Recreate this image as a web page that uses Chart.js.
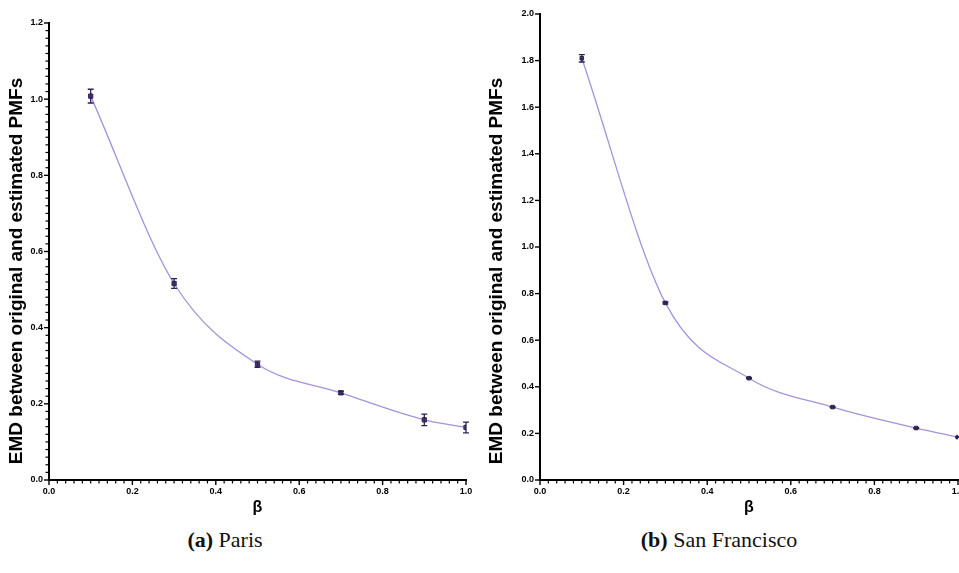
<!DOCTYPE html>
<html>
<head>
<meta charset="utf-8">
<script src="https://cdn.jsdelivr.net/npm/chart.js@4.4.0/dist/chart.umd.min.js"></script>
<style>
    html, body { margin: 0; padding: 0; background: #fff; overflow: hidden; width: 959px; height: 573px; }
    #ParisChart { position: absolute; left: 0; top: 0; }
    #SFChart { position: absolute; left: 480px; top: 0; }
    .caption { position: absolute; top: 527px; font-family: "Liberation Serif", serif; font-size: 22px; text-align: center; color: #111; }
</style>
</head>
<body>
<canvas id="ParisChart" width="480" height="520"></canvas>
<canvas id="SFChart" width="492" height="520"></canvas>
<div class="caption" style="left:0;width:450px"><b>(a)</b> Paris</div>
<div class="caption" style="left:480px;width:478px"><b>(b)</b> San Francisco</div>
<script>
// data
var betaValues = [0.1, 0.3, 0.5, 0.7, 0.9, 1.0];
var parisEmd = [1.008, 0.516, 0.304, 0.229, 0.158, 0.138];
var parisErr = [0.018, 0.013, 0.008, 0.004, 0.015, 0.014];
var sfEmd = [1.81, 0.76, 0.437, 0.313, 0.223, 0.184];
var sfErr = [0.016, 0.004, 0.002, 0.002, 0.002, 0.002];

var yTitle = 'EMD between original and estimated PMFs';
var curveColor = "#a493dc";
var markColor = "#2f2352";

// vertical error bars with caps, drawn on top of the points
var errorBars = {
    id: 'errorBars',
    afterDatasetsDraw: function (chart) {
        var ctx = chart.ctx;
        var xs = chart.scales.x, ys = chart.scales.y;
        chart.data.datasets.forEach(function (ds) {
            if (!ds.errors) return;
            ctx.save();
            ctx.strokeStyle = markColor;
            ctx.lineWidth = 1.3;
            ds.data.forEach(function (p, i) {
                var x = xs.getPixelForValue(p.x);
                var y1 = ys.getPixelForValue(p.y + ds.errors[i]);
                var y2 = ys.getPixelForValue(p.y - ds.errors[i]);
                ctx.beginPath();
                ctx.moveTo(x, y1); ctx.lineTo(x, y2);
                ctx.moveTo(x - 3, y1); ctx.lineTo(x + 3, y1);
                ctx.moveTo(x - 3, y2); ctx.lineTo(x + 3, y2);
                ctx.stroke();
            });
            ctx.restore();
        });
    }
};

// black axis lines, major + minor ticks and the rotated y title
function axisPainter(minorAxes) {
    return {
        id: 'axisPainter',
        afterDraw: function (chart) {
            var ctx = chart.ctx;
            var area = chart.chartArea;
            ctx.save();
            ctx.strokeStyle = "#000";
            ctx.lineCap = 'butt';
            ['x', 'y'].forEach(function (id) {
                var s = chart.scales[id];
                var horiz = s.isHorizontal();
                function tick(v, len) {
                    var p = s.getPixelForValue(v);
                    ctx.beginPath();
                    if (horiz) { ctx.moveTo(p, area.bottom); ctx.lineTo(p, area.bottom + len); }
                    else { ctx.moveTo(area.left, p); ctx.lineTo(area.left - len, p); }
                    ctx.stroke();
                }
                ctx.lineWidth = 1.4;
                s.ticks.forEach(function (t) { tick(t.value, 5); });
                if (minorAxes.indexOf(id) >= 0) {
                    ctx.lineWidth = 1.2;
                    var n = Math.round((s.max - s.min) / 0.02);
                    for (var k = 1; k < n; k++) {
                        if (k % 10 !== 0) tick(s.min + k * 0.02, 3.5);
                    }
                }
            });
            ctx.lineWidth = 2;
            ctx.beginPath();
            ctx.moveTo(area.left, area.top - 1);
            ctx.lineTo(area.left, area.bottom);
            ctx.lineTo(area.right + 1, area.bottom);
            ctx.stroke();

            ctx.fillStyle = "#000";
            ctx.font = "bold 19px 'Liberation Sans', Arial, sans-serif";
            ctx.textAlign = 'center';
            ctx.textBaseline = 'middle';
            ctx.translate(17, 271);
            ctx.rotate(-Math.PI / 2);
            ctx.fillText(yTitle, 0, 0);
            ctx.restore();
        }
    };
}

function makeChart(canvasId, values, errors, yMax, yWidth, padTop, minorAxes, ptRadius) {
    var tickFont = { family: "'Liberation Sans', Arial, sans-serif", size: 9, weight: 'bold' };
    var points = betaValues.map(function (b, i) { return { x: b, y: values[i] }; });
    return new Chart(document.getElementById(canvasId), {
        type: 'line',
        data: {
            datasets: [{
                data: points,
                errors: errors,
                borderColor: curveColor,
                borderWidth: 1.3,
                cubicInterpolationMode: 'monotone',
                pointStyle: 'rect',
                pointRadius: ptRadius,
                pointBackgroundColor: "#4a3b7a",
                pointBorderColor: markColor,
                pointBorderWidth: 1,
                fill: false
            }]
        },
        options: {
            responsive: false,
            animation: false,
            devicePixelRatio: 1,
            layout: { padding: { top: padTop, right: 14, left: 0, bottom: 0 } },
            plugins: { legend: { display: false }, tooltip: { enabled: false } },
            scales: {
                x: {
                    type: 'linear', min: 0, max: 1,
                    afterFit: function (s) { s.height = 40; },
                    ticks: { stepSize: 0.2, color: "#000", font: tickFont, padding: 1, maxRotation: 0,
                        callback: function (v) { return v.toFixed(1); } },
                    grid: { drawOnChartArea: false, color: "rgba(0,0,0,0)", tickLength: 5 },
                    border: { display: false },
                    title: { display: true, text: 'β', color: "#000",
                        font: { family: "'Liberation Sans', Arial, sans-serif", size: 16, weight: 'bold' },
                        padding: { top: 0, bottom: 3 } }
                },
                y: {
                    min: 0, max: yMax,
                    afterFit: function (s) { s.width = yWidth; },
                    ticks: { stepSize: 0.2, color: "#000", font: tickFont, padding: 1,
                        callback: function (v) { return v.toFixed(1); } },
                    grid: { drawOnChartArea: false, color: "rgba(0,0,0,0)", tickLength: 5 },
                    border: { display: false }
                }
            }
        },
        plugins: [errorBars, axisPainter(minorAxes)]
    });
}

makeChart("ParisChart", parisEmd, parisErr, 1.2, 49, 23, ['x', 'y'], 3);
makeChart("SFChart", sfEmd, sfErr, 2.0, 60, 14, ['x'], 2.5);
</script>
</body>
</html>
